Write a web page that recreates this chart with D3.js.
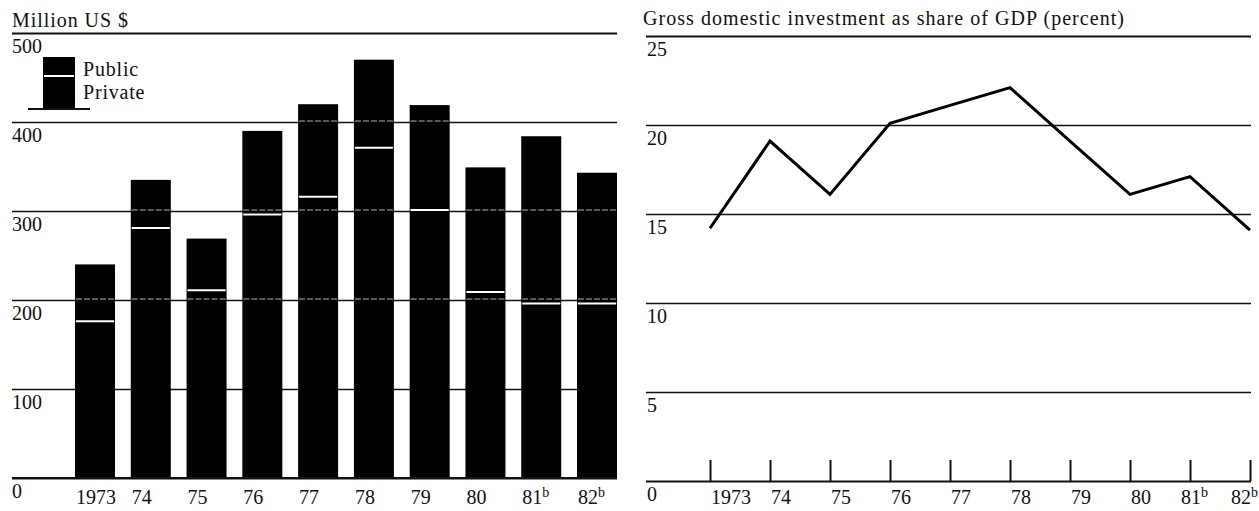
<!DOCTYPE html>
<html>
<head>
<meta charset="utf-8">
<script src="https://cdn.jsdelivr.net/npm/d3@7/dist/d3.min.js"></script>
<style>
  html, body { margin: 0; padding: 0; background: #fff; }
  svg { display: block; }
  text { font-family: "Liberation Serif", "Times New Roman", serif; fill: #111; }
</style>
</head>
<body>
<svg id="chart" width="1259" height="511"></svg>
<script>
// ---------- data ----------
const categories = ["1973", "74", "75", "76", "77", "78", "79", "80", "81", "82"];
const footnotes  = ["", "", "", "", "", "", "", "", "b", "b"];
const privateInvestment = [176, 281, 211, 296, 316, 371, 301, 209, 196, 196];
const publicInvestment  = [64, 54, 58, 94, 104, 99, 118, 140, 188, 147];
const investmentShareGDP = [14.2, 19.1, 16.1, 20.1, 21.1, 22.1, 19.1, 16.1, 17.1, 14.1];
const leftTicks  = [0, 100, 200, 300, 400, 500];
const rightTicks = [0, 5, 10, 15, 20, 25];
const leftTitle  = "Million US $";
const rightTitle = "Gross domestic investment as share of GDP (percent)";
const seriesNames = ["Public", "Private"];

// ---------- setup ----------
const svg = d3.select("#chart");
const FONT = 20;
const LABEL_Y = 504;
const ink = "#111";

// ================= LEFT PANEL =================
const L = { x0: 12, x1: 617, yTop: 33, yBase: 478 };
const xBand = d3.scaleBand().domain(categories).range([75, 617]).paddingInner(0.283).paddingOuter(0);
const yLeft = d3.scaleLinear().domain([0, 500]).range([L.yBase, L.yTop]);

const rows = categories.map((c, i) => ({ cat: c, private: privateInvestment[i], public: publicInvestment[i] }));
const stacked = d3.stack().keys(["private", "public"])(rows);

// gridlines + labels via axis
const gLeftAxis = svg.append("g").attr("transform", `translate(${L.x0},0)`)
  .call(d3.axisRight(yLeft).tickValues(leftTicks).tickSize(L.x1 - L.x0).tickFormat(d3.format("d")));
gLeftAxis.select(".domain").remove();
gLeftAxis.selectAll(".tick line").attr("stroke", ink)
  .attr("stroke-width", d => (d === 500 || d === 0) ? 2 : 1.5);
gLeftAxis.selectAll(".tick text").attr("x", 0).attr("dy", null).attr("y", 19)
  .attr("text-anchor", "start").attr("font-size", FONT).attr("fill", ink)
  .style("font-family", '"Liberation Serif", "Times New Roman", serif');

// bars (both segments black)
const gBars = svg.append("g");
stacked.forEach(layer => {
  gBars.selectAll(null).data(layer).enter().append("rect")
    .attr("x", d => xBand(d.data.cat))
    .attr("width", xBand.bandwidth())
    .attr("y", d => yLeft(d[1]))
    .attr("height", d => yLeft(d[0]) - yLeft(d[1]))
    .attr("fill", "#000");
});

// faint white gridline traces inside bars (as printed)
const haloTicks = [200, 300, 400];
rows.forEach(r => {
  const total = r.private + r.public;
  haloTicks.filter(t => t < total - 3).forEach(t => {
    gBars.append("line")
      .attr("x1", xBand(r.cat) + 1).attr("x2", xBand(r.cat) + xBand.bandwidth() - 1)
      .attr("y1", yLeft(t) - 1).attr("y2", yLeft(t) - 1)
      .attr("stroke", "#fff").attr("stroke-width", 1).attr("stroke-opacity", 0.7)
      .attr("stroke-dasharray", "6,2");
  });
});

// separator between private and public
gBars.selectAll(null).data(stacked[0]).enter().append("line")
  .attr("x1", d => xBand(d.data.cat) + 1)
  .attr("x2", d => xBand(d.data.cat) + xBand.bandwidth() - 1)
  .attr("y1", d => yLeft(d[1])).attr("y2", d => yLeft(d[1]))
  .attr("stroke", "#fff").attr("stroke-width", 2);

// baseline on top of bars
svg.append("line").attr("x1", L.x0).attr("x2", L.x1)
  .attr("y1", yLeft(0)).attr("y2", yLeft(0)).attr("stroke", ink).attr("stroke-width", 2);

// category labels
const gLX = svg.append("g");
categories.forEach((c, i) => {
  const t = gLX.append("text").attr("x", xBand(c) + 1).attr("y", LABEL_Y).attr("font-size", FONT);
  t.append("tspan").text(c);
  if (footnotes[i]) t.append("tspan").attr("font-size", 14).attr("dy", -7).text(footnotes[i]);
});

// title
svg.append("text").attr("x", 12).attr("y", 27).attr("font-size", FONT)
  .attr("textLength", 116).attr("lengthAdjust", "spacing").text(leftTitle);

// legend
const lg = svg.append("g");
lg.append("rect").attr("x", 43).attr("y", 57).attr("width", 32).attr("height", 52).attr("fill", "#000");
lg.append("line").attr("x1", 44).attr("x2", 74).attr("y1", 76).attr("y2", 76).attr("stroke", "#fff").attr("stroke-width", 2);
lg.append("line").attr("x1", 28).attr("x2", 90).attr("y1", 109).attr("y2", 109).attr("stroke", ink).attr("stroke-width", 2);
lg.append("text").attr("x", 83).attr("y", 76).attr("font-size", FONT).attr("letter-spacing", 0.8).text(seriesNames[0]);
lg.append("text").attr("x", 83).attr("y", 99).attr("font-size", FONT).attr("letter-spacing", 0.8).text(seriesNames[1]);

// ================= RIGHT PANEL =================
const R = { x0: 646, x1: 1251, yTop: 36, yBase: 481 };
const xPoint = d3.scalePoint().domain(categories).range([710, 1250]);
const yRight = d3.scaleLinear().domain([0, 25]).range([R.yBase, R.yTop]);

const gRightAxis = svg.append("g").attr("transform", `translate(${R.x0},0)`)
  .call(d3.axisRight(yRight).tickValues(rightTicks).tickSize(R.x1 - R.x0).tickFormat(d3.format("d")));
gRightAxis.select(".domain").remove();
gRightAxis.selectAll(".tick line").attr("stroke", ink)
  .attr("stroke-width", d => (d === 25 || d === 0) ? 2 : 1.5);
gRightAxis.selectAll(".tick text").attr("x", 1).attr("dy", null).attr("y", 19)
  .attr("text-anchor", "start").attr("font-size", FONT).attr("fill", ink)
  .style("font-family", '"Liberation Serif", "Times New Roman", serif');

// x ticks pointing upward
const gRX = svg.append("g").attr("transform", `translate(0,${R.yBase})`)
  .call(d3.axisBottom(xPoint).tickSize(-21).tickSizeOuter(0).tickFormat(""));
gRX.select(".domain").remove();
gRX.selectAll(".tick line").attr("stroke", ink).attr("stroke-width", 2);

// x labels
categories.forEach((c, i) => {
  const t = svg.append("text").attr("y", LABEL_Y).attr("font-size", FONT);
  t.append("tspan").text(c);
  if (footnotes[i]) t.append("tspan").attr("font-size", 14).attr("dy", -7).text(footnotes[i]);
  const w = t.node().getComputedTextLength();
  let x = xPoint(c) + 1;
  if (footnotes[i]) x = Math.min(xPoint(c) - 9, 1258 - w);
  t.attr("x", x);
});

// line
const line = d3.line().x((d, i) => xPoint(categories[i])).y(d => yRight(d));
svg.append("path").datum(investmentShareGDP).attr("d", line)
  .attr("fill", "none").attr("stroke", "#000").attr("stroke-width", 3).attr("stroke-linejoin", "miter");

// title
svg.append("text").attr("x", 643).attr("y", 25).attr("font-size", FONT)
  .attr("textLength", 481).attr("lengthAdjust", "spacing").text(rightTitle);
</script>
</body>
</html>
